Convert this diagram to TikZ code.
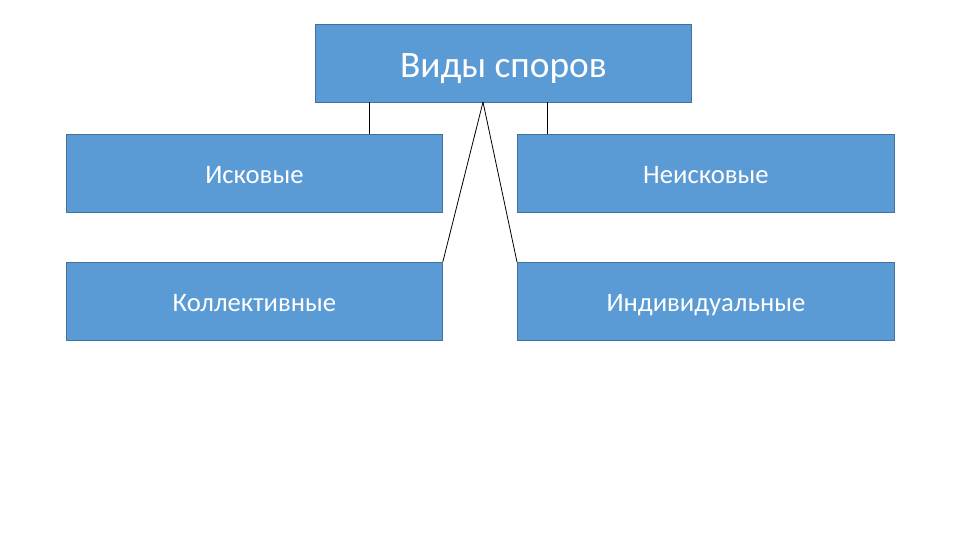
\documentclass[tikz,border=0pt]{standalone}
\usepackage{fontspec}
\setmainfont{Carlito}
\definecolor{boxfill}{HTML}{5B9BD5}
\definecolor{boxedge}{HTML}{41719C}
\begin{document}
\begin{tikzpicture}[x=0.75pt,y=-0.75pt,
  box/.style={draw=boxedge,line width=0.6pt,fill=boxfill,text=white,inner sep=0pt,
    minimum width=376*0.75pt,minimum height=78*0.75pt,anchor=north west},
  small/.style={box,font=\fontsize{20}{24}\selectfont,text height=15pt,text depth=0pt},
  link/.style={draw=black,line width=0.6pt}]
\useasboundingbox (0,0) rectangle (960,540);
\node[box,font=\fontsize{28}{32}\selectfont,text height=21pt,text depth=0pt] (top) at (315,24) {Виды споров};
\node[small] (isk) at (66,134) {Исковые};
\node[small,minimum width=377*0.75pt] (neisk) at (517,134) {Неисковые};
\node[small] (koll) at (66,262) {Коллективные};
\node[small,minimum width=377*0.75pt] (ind) at (517,262) {Индивидуальные};
\coordinate (apex) at (483,102);
\coordinate (l1) at (369.5,102);
\coordinate (r1) at (547.5,102);
\draw[link] (l1) -- (isk.north west -| l1);
\draw[link] (r1) -- (neisk.north west -| r1);
\draw[link] (apex) -- (koll.north east);
\draw[link] (apex) -- (ind.north west);
\end{tikzpicture}
\end{document}
